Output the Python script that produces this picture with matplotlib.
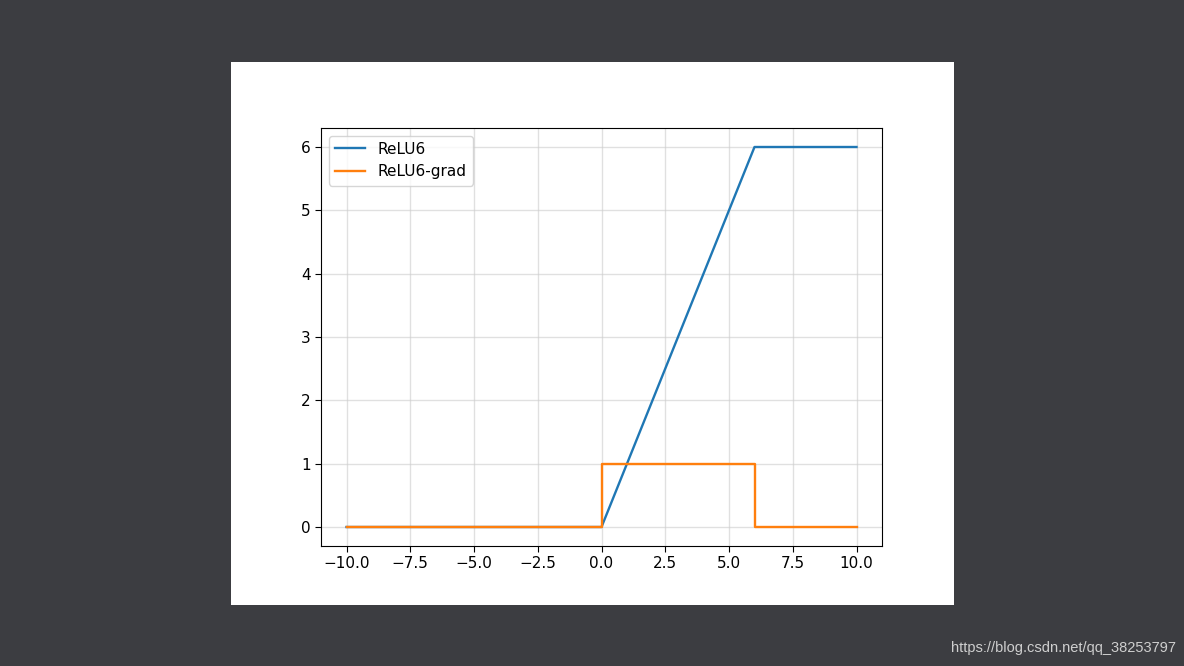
import matplotlib
matplotlib.use("Agg")
import matplotlib.pyplot as plt
from matplotlib.patches import Rectangle

relu6_x = [-10, 0, 6, 10]
relu6_y = [0, 0, 6, 6]
grad_x = [-10, 0, 0, 6, 6, 10]
grad_y = [0, 0, 1, 1, 0, 0]
xticks = [-10.0, -7.5, -5.0, -2.5, 0.0, 2.5, 5.0, 7.5, 10.0]
yticks = [0, 1, 2, 3, 4, 5, 6]

fig = plt.figure(figsize=(11.84, 6.66), dpi=100)
fig.patch.set_facecolor("#3c3d41")
fig.add_artist(Rectangle((231/1184, 61/666), (954-231)/1184, (604-61)/666,
                         transform=fig.transFigure, facecolor="white", edgecolor="none", zorder=0))

ax = fig.add_axes([321/1184, 120/666, (882-321)/1184, (538-120)/666])
ax.plot(relu6_x, relu6_y, color="#1f77b4", lw=1.7, label="ReLU6")
ax.plot(grad_x, grad_y, color="#ff7f0e", lw=1.7, label="ReLU6-grad")
ax.set_xticks(xticks)
ax.set_xticklabels([f"{t:.1f}".replace("-", "\u2212") for t in xticks])
ax.set_yticks(yticks)
ax.tick_params(labelsize=11, length=4)
ax.grid(True, color="#cccccc", alpha=0.6, lw=1)
ax.set_xlim(-11.0, 11.0)
ax.set_ylim(-0.3, 6.3)
ax.legend(loc="upper left", fontsize=11, framealpha=0.8)

fig.text(1176/1184, 18/666, "https://blog.csdn.net/qq_38253797", color="#cfcfcf",
         fontsize=10.5, ha="right", va="center", family="Liberation Sans")

fig.savefig("out.png", dpi=100, facecolor=fig.get_facecolor())
